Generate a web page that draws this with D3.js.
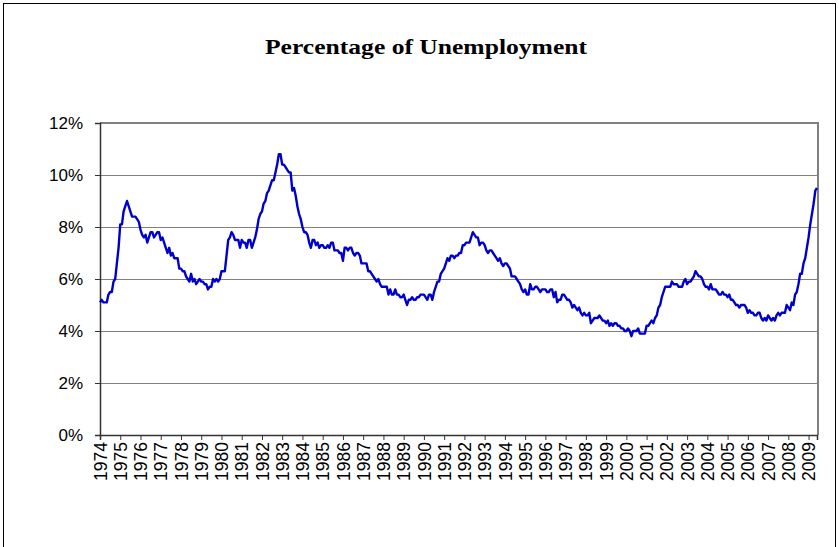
<!DOCTYPE html>
<html>
<head>
<meta charset="utf-8">
<script src="https://cdn.jsdelivr.net/npm/d3@7/dist/d3.min.js"></script>
<style>
  html, body { margin: 0; padding: 0; background: #fff; }
  svg { display: block; }
</style>
</head>
<body>
<svg id="chart" width="839" height="547"></svg>
<script>
// ---- Data: US unemployment rate (%), monthly, Jan 1974 - Jun 2009 ----
const startYear = 1974;
const rate1970s = [
  5.1,5.2,5.1,5.1,5.1,5.4,5.5,5.5,5.9,6.0,6.6,7.2,   // 1974
  8.1,8.1,8.6,8.8,9.0,8.8,8.6,8.4,8.4,8.4,8.3,8.2,   // 1975
  7.9,7.7,7.6,7.7,7.4,7.6,7.8,7.8,7.6,7.7,7.8,7.8,   // 1976
  7.5,7.6,7.4,7.2,7.0,7.2,6.9,7.0,6.8,6.8,6.8,6.4,   // 1977
  6.4,6.3,6.3,6.1,6.0,5.9,6.2,5.9,6.0,5.8,5.9,6.0,   // 1978
  5.9,5.9,5.8,5.8,5.6,5.7,5.7,6.0,5.9,6.0,5.9,6.0    // 1979
];
const rate1980s = [
  6.3,6.3,6.3,6.9,7.5,7.6,7.8,7.7,7.5,7.5,7.5,7.2,   // 1980
  7.5,7.4,7.4,7.2,7.5,7.5,7.2,7.4,7.6,7.9,8.3,8.5,   // 1981
  8.6,8.9,9.0,9.3,9.4,9.6,9.8,9.8,10.1,10.4,10.8,10.8, // 1982
  10.4,10.4,10.3,10.2,10.1,10.1,9.4,9.5,9.2,8.8,8.5,8.3, // 1983
  8.0,7.8,7.8,7.7,7.4,7.2,7.5,7.5,7.3,7.4,7.2,7.3,   // 1984
  7.3,7.2,7.2,7.3,7.2,7.4,7.4,7.1,7.1,7.1,7.0,7.0,   // 1985
  6.7,7.2,7.2,7.1,7.2,7.2,7.0,6.9,7.0,7.0,6.9,6.6,   // 1986
  6.6,6.6,6.6,6.3,6.3,6.2,6.1,6.0,5.9,6.0,5.8,5.7,   // 1987
  5.7,5.7,5.7,5.4,5.6,5.4,5.4,5.6,5.4,5.4,5.3,5.3,   // 1988
  5.4,5.2,5.0,5.2,5.2,5.3,5.2,5.2,5.3,5.3,5.4,5.4    // 1989
];
const rate1990s = [
  5.4,5.3,5.2,5.4,5.4,5.2,5.5,5.7,5.9,5.9,6.2,6.3,   // 1990
  6.4,6.6,6.8,6.7,6.9,6.9,6.8,6.9,6.9,7.0,7.0,7.3,   // 1991
  7.3,7.4,7.4,7.4,7.6,7.8,7.7,7.6,7.6,7.3,7.4,7.4,   // 1992
  7.3,7.1,7.0,7.1,7.1,7.0,6.9,6.8,6.7,6.8,6.6,6.5,   // 1993
  6.6,6.6,6.5,6.4,6.1,6.1,6.1,6.0,5.9,5.8,5.6,5.5,   // 1994
  5.6,5.4,5.4,5.8,5.6,5.6,5.7,5.7,5.6,5.5,5.6,5.6,   // 1995
  5.6,5.5,5.5,5.6,5.6,5.3,5.5,5.1,5.2,5.2,5.4,5.4,   // 1996
  5.3,5.2,5.2,5.1,4.9,5.0,4.9,4.8,4.9,4.7,4.6,4.7,   // 1997
  4.6,4.6,4.7,4.3,4.4,4.5,4.5,4.5,4.6,4.5,4.4,4.4,   // 1998
  4.3,4.4,4.2,4.3,4.2,4.3,4.3,4.2,4.2,4.1,4.1,4.0    // 1999
];
const rate2000s = [
  4.0,4.1,4.0,3.8,4.0,4.0,4.0,4.1,3.9,3.9,3.9,3.9,   // 2000
  4.2,4.2,4.3,4.4,4.3,4.5,4.6,4.9,5.0,5.3,5.5,5.7,   // 2001
  5.7,5.7,5.7,5.9,5.8,5.8,5.8,5.7,5.7,5.7,5.9,6.0,   // 2002
  5.8,5.9,5.9,6.0,6.1,6.3,6.2,6.1,6.1,6.0,5.8,5.7,   // 2003
  5.7,5.6,5.8,5.6,5.6,5.6,5.5,5.4,5.4,5.5,5.4,5.4,   // 2004
  5.3,5.4,5.2,5.2,5.1,5.0,5.0,4.9,5.0,5.0,5.0,4.9,   // 2005
  4.7,4.8,4.7,4.7,4.6,4.6,4.7,4.7,4.5,4.4,4.5,4.4,   // 2006
  4.6,4.5,4.4,4.5,4.4,4.6,4.7,4.6,4.7,4.7,4.7,5.0,   // 2007
  4.9,4.8,5.1,5.0,5.4,5.5,5.8,6.2,6.2,6.6,6.8,7.2,   // 2008
  7.6,8.1,8.5,8.9,9.4,9.5                            // 2009 (Jan-Jun)
];
const yearLabels = d3.range(1974, 2010).map(String);
const yTickValues = [0, 2, 4, 6, 8, 10, 12];
const chartTitle = "Percentage of Unemployment";

const rates = rate1970s.concat(rate1980s, rate1990s, rate2000s);
const data = rates.map((v, i) => ({ i, v }));

// ---- Layout ----
const svg = d3.select("#chart");
const plot = { left: 100, right: 818, top: 123, bottom: 435 };

// Chart area border
svg.append("rect")
  .attr("x", 3.5).attr("y", 3.5)
  .attr("width", 832).attr("height", 560)
  .attr("fill", "none").attr("stroke", "#000").attr("stroke-width", 1);

const x = d3.scaleLinear().domain([0, rates.length - 1]).range([plot.left, 817]);
const y = d3.scaleLinear().domain([0, 12]).range([plot.bottom, plot.top]);

// Gridlines
svg.append("g")
  .selectAll("line")
  .data(yTickValues.filter(v => v > 0 && v < 12))
  .join("line")
  .attr("x1", plot.left).attr("x2", plot.right)
  .attr("y1", d => Math.round(y(d)) + 0.5).attr("y2", d => Math.round(y(d)) + 0.5)
  .attr("stroke", "#808080").attr("stroke-width", 1);

// Plot area border (top & right)
svg.append("path")
  .attr("d", `M${plot.left},${plot.top} H${plot.right} V${plot.bottom}`)
  .attr("fill", "none").attr("stroke", "#808080").attr("stroke-width", 2);

// Y axis
const yAxis = d3.axisLeft(y)
  .tickValues(yTickValues)
  .tickSize(5)
  .tickPadding(12)
  .tickFormat(d => d + "%");
const gy = svg.append("g").attr("transform", `translate(${plot.left},0)`).call(yAxis);
gy.select(".domain").attr("stroke", "#333").attr("stroke-width", 1.5);
gy.selectAll(".tick line").attr("stroke", "#333");
gy.selectAll(".tick text")
  .attr("font-family", "Liberation Sans, Arial, sans-serif")
  .attr("font-size", 17).attr("fill", "#000");

// X axis: ticks every 12 months labelled with the year
const xAxis = d3.axisBottom(x)
  .tickValues(yearLabels.map((_, k) => k * 12))
  .tickSize(5)
  .tickFormat((d, k) => yearLabels[k]);
const gx = svg.append("g").attr("transform", `translate(0,${plot.bottom})`).call(xAxis);
gx.select(".domain").attr("stroke", "#333").attr("stroke-width", 1.5);
gx.selectAll(".tick line").attr("stroke", "#333");
gx.selectAll(".tick text")
  .attr("font-family", "Liberation Sans, Arial, sans-serif")
  .attr("font-size", 17.5).attr("fill", "#000")
  .attr("transform", "rotate(-90)")
  .attr("text-anchor", "end")
  .attr("dy", "0.35em")
  .attr("x", -7).attr("y", 0);

// Line
const line = d3.line().x(d => x(d.i)).y(d => y(d.v));
svg.append("path")
  .datum(data)
  .attr("d", line)
  .attr("fill", "none")
  .attr("stroke", "#0000CC")
  .attr("stroke-width", 2.4)
  .attr("stroke-linejoin", "round");

// Title
svg.append("text")
  .attr("x", 426).attr("y", 54)
  .attr("text-anchor", "middle")
  .attr("font-family", "Liberation Serif, 'DejaVu Serif', serif")
  .attr("font-weight", "bold")
  .attr("font-size", 21)
  .attr("textLength", 322)
  .attr("lengthAdjust", "spacingAndGlyphs")
  .attr("fill", "#000")
  .text(chartTitle);
</script>
</body>
</html>
